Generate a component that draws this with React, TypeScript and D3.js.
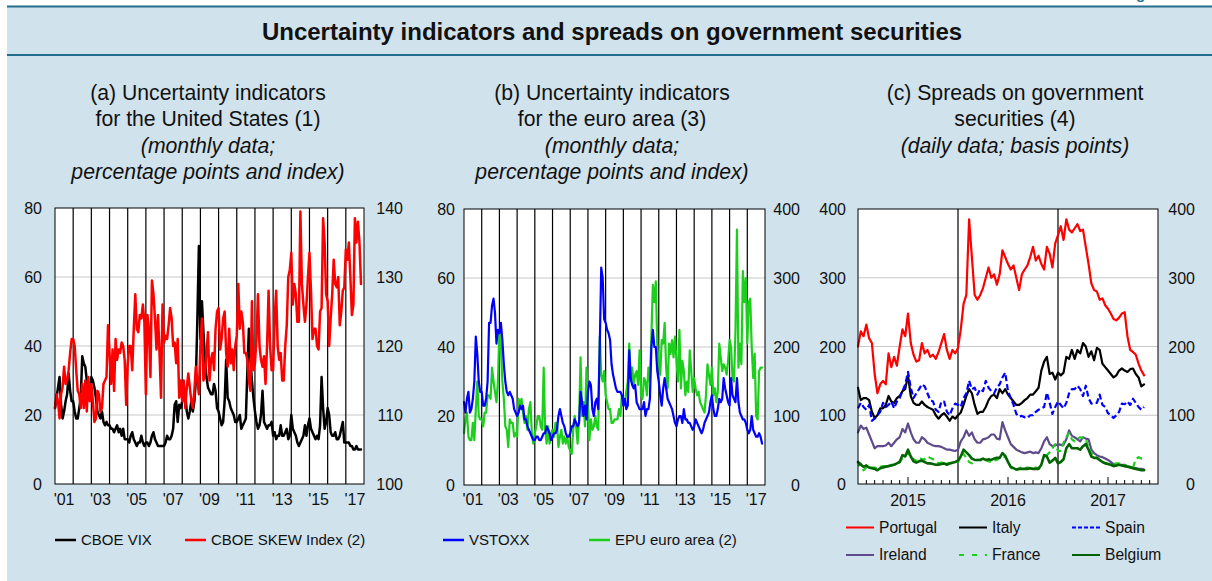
import React from 'react';
import * as d3 from 'd3';

const FONT = "'Liberation Sans', Arial, Helvetica, sans-serif";
const TEAL = '#236e8c';
const BG = '#d0e2ec';

// ---------- Panel (a): monthly, Jan 2001 - Nov 2017 ----------
const vix: number[] = [
  22, 25, 28, 31, 23, 19, 21, 24, 26, 32, 27, 24,
  24, 21, 19, 19, 22, 25, 37, 35, 34, 30, 25, 27,
  31, 30, 28, 25, 21, 20, 19, 21, 18, 17, 18, 17,
  17, 16, 16, 15, 16, 17, 15, 16, 14, 16, 13, 13,
  13, 12, 14, 15, 13, 12, 11, 12, 12, 14, 12, 11,
  12, 12, 11, 12, 14, 15, 13, 12, 11, 11, 11, 11,
  11, 12, 14, 13, 13, 14, 16, 23, 24, 18, 23, 22,
  24, 25, 26, 21, 19, 21, 24, 21, 24, 30, 48, 69,
  42, 53, 44, 36, 31, 28, 27, 26, 26, 29, 27, 22,
  21, 19, 17, 18, 24, 36, 25, 24, 22, 21, 20, 18,
  18, 19, 20, 16, 17, 18, 19, 33, 45, 36, 30, 25,
  21, 18, 16, 17, 20, 27, 18, 17, 16, 17, 17, 18,
  14, 15, 13, 14, 14, 17, 14, 14, 15, 16, 13, 14,
  20, 16, 15, 14, 12, 11, 12, 13, 14, 17, 14, 17,
  19, 16, 15, 14, 13, 14, 13, 17, 31, 22, 16, 18,
  22, 20, 15, 14, 14, 15, 13, 13, 14, 16, 18, 12,
  12, 12, 12, 11, 11, 10, 10, 11, 10, 10, 10,
];

const skew: number[] = [
  111, 113, 112, 109.5, 113, 114, 117, 114.5, 115, 116.5, 119, 121,
  121, 120, 116.5, 113.5, 113, 111, 114.5, 111, 115, 110.5, 115.5, 112,
  114.5, 112, 109, 109.5, 113.5, 113, 110.5, 111, 114.5, 115, 115.5, 123,
  119, 114.5, 119.5, 113.5, 121, 118, 119.5, 119, 120.5, 120, 118, 111.5,
  117.5, 120, 120, 116.5, 122.5, 127.5, 122.5, 122, 124.5, 124, 126, 123.5,
  113, 124.5, 122.5, 115.5, 129.5, 127.5, 124, 119.5, 124.5, 119, 112.5, 126,
  120.5, 121.5, 121, 123, 125.5, 124, 120, 120.5, 117.5, 121, 112.5, 115,
  112, 115, 111, 114, 116, 114, 112, 111, 113.5, 117, 115, 113,
  120, 124, 115, 116, 119, 122, 115, 118, 119, 116.5, 122.5, 125,
  125.5, 119.5, 121, 124, 125, 119, 117, 122.5, 117.5, 119.5, 116.5, 120,
  121.5, 129, 122.5, 125, 123.5, 119, 119, 118, 115, 113.5, 126.5, 116.5,
  117.5, 121, 127.5, 120, 118, 117, 118.5, 114.5, 120, 128, 120, 116.5,
  116.5, 124, 128, 120, 118, 119, 115, 115, 120, 123, 130, 131,
  133.5, 126, 129, 127.5, 123.5, 123.5, 139.5, 129, 126, 123.5, 126, 130,
  133.5, 128, 121, 122.5, 122.5, 120, 119.5, 125, 125.5, 138.5, 135, 127.5,
  126.5, 120, 124, 127.5, 132.5, 129, 128.5, 130, 123, 125, 128, 128.5,
  134, 132.5, 135, 130, 124.5, 126, 138.5, 135, 138, 135, 129,
];

// ---------- Panel (b): monthly, Jan 2001 - Nov 2017 ----------
const vstoxx: number[] = [
  24, 21, 25, 27, 21, 22, 25, 30, 43, 38, 30, 27,
  27, 23, 23, 25, 30, 47, 47, 52, 54, 50, 41, 45,
  44, 47, 42, 35, 30, 27, 26, 27, 26, 25, 22, 21,
  20, 21, 23, 22, 23, 19, 19, 17, 16, 15, 14, 13,
  13, 14, 14, 13, 13, 14, 15, 15, 17, 16, 15, 13,
  14, 15, 15, 16, 20, 22, 20, 18, 17, 15, 14, 14,
  15, 17, 17, 19, 18, 17, 18, 27, 24, 20, 23, 19,
  27, 30, 29, 22, 20, 24, 25, 22, 40, 63, 60, 48,
  47, 45, 44, 42, 35, 32, 30, 28, 27, 27, 27, 26,
  23, 25, 22, 23, 39, 31, 29, 28, 29, 24, 23, 22,
  22, 22, 24, 20, 22, 22, 25, 40, 45, 40, 40, 33,
  30, 26, 23, 28, 31, 28, 25, 24, 23, 22, 20, 18,
  17, 19, 20, 20, 18, 22, 19, 19, 18, 18, 17, 16,
  17, 19, 18, 17, 16, 15, 16, 18, 19, 20, 21, 24,
  26, 22, 20, 20, 22, 25, 24, 25, 31, 28, 26, 24,
  23, 31, 26, 25, 24, 31, 24, 21, 20, 19, 19, 18,
  16, 15, 16, 20, 16, 15, 14, 14, 15, 14, 12,
];

const epu: number[] = [
  75, 95, 105, 70, 65, 65, 90, 65, 110, 150, 100, 95,
  95, 85, 105, 105, 130, 130, 125, 170, 150, 135, 120, 150,
  225, 200, 150, 125, 85, 80, 55, 95, 90, 90, 70, 75,
  70, 125, 115, 125, 105, 90, 100, 80, 110, 120, 75, 60,
  75, 85, 100, 100, 85, 80, 170, 80, 60, 85, 60, 75,
  80, 70, 90, 90, 55, 70, 80, 60, 70, 60, 70, 55,
  50, 45, 80, 100, 85, 60, 95, 185, 100, 120, 85, 170,
  120, 65, 95, 80, 85, 100, 85, 80, 215, 160, 150, 165,
  130, 120, 110, 110, 90, 90, 95, 95, 95, 110, 100, 130,
  115, 120, 135, 150, 205, 150, 170, 145, 160, 165, 145, 195,
  130, 125, 155, 150, 130, 170, 150, 215, 290, 265, 295, 200,
  175, 160, 210, 205, 235, 170, 140, 205, 190, 210, 185, 215,
  180, 150, 225, 140, 180, 165, 130, 150, 135, 195, 165, 135,
  155, 140, 130, 135, 120, 115, 110, 105, 130, 175, 160, 145,
  170, 130, 140, 120, 135, 205, 185, 165, 175, 170, 160, 180,
  210, 200, 155, 150, 225, 370, 170, 205, 175, 310, 265, 300,
  205, 265, 270, 200, 155, 190, 100, 95, 165, 170, 170,
];

// ---------- Panel (c): every ~10 days, Jan 2015 - Nov 2017 ----------
const portugal: number[] = [
  200, 222, 215, 232, 212, 205, 160, 132, 145, 150, 145, 190, 170, 185, 172, 200, 225, 215, 248, 205,
  188, 178, 180, 205, 190, 195, 185, 188, 182, 192, 205, 218, 195, 182, 195, 190, 198, 225, 262, 275,
  385, 330, 275, 268, 275, 285, 300, 315, 300, 305, 290, 305, 340, 330, 320, 312, 318, 300, 282, 305,
  312, 318, 330, 345, 325, 332, 320, 312, 345, 335, 315, 350, 362, 375, 355, 385, 370, 366, 372, 378,
  368, 370, 345, 320, 292, 282, 280, 268, 270, 260, 255, 248, 240, 238, 242, 248, 250, 215, 195, 192,
  188, 175, 165, 158,
];
const italy: number[] = [
  140, 122, 125, 125, 122, 105, 96, 100, 110, 110, 115, 128, 120, 118, 125, 128, 135, 138, 158, 128,
  118, 115, 115, 120, 115, 112, 110, 108, 100, 95, 100, 103, 98, 92, 98, 95, 100, 104, 115, 128,
  138, 132, 115, 102, 105, 105, 112, 122, 128, 130, 125, 138, 132, 138, 130, 125, 120, 115, 115, 118,
  122, 125, 130, 130, 135, 140, 165, 178, 185, 160, 162, 152, 162, 158, 162, 185, 182, 195, 182, 195,
  190, 205, 200, 185, 193, 180, 198, 195, 175, 170, 165, 160, 155, 158, 165, 168, 165, 163, 167, 168,
  160, 155, 142, 145,
];
const spain: number[] = [
  110, 118, 112, 108, 115, 92, 95, 100, 105, 118, 112, 115, 120, 110, 120, 125, 135, 145, 163, 140,
  125, 132, 138, 145, 142, 132, 122, 120, 108, 105, 120, 120, 105, 100, 110, 117, 115, 112, 125, 132,
  150, 138, 140, 130, 138, 135, 150, 140, 135, 132, 140, 145, 155, 162, 135, 125, 115, 102, 98, 99,
  97, 96, 100, 100, 105, 108, 110, 112, 133, 118, 102, 112, 120, 115, 110, 118, 132, 138, 138, 143,
  138, 128, 143, 125, 117, 118, 118, 130, 115, 112, 103, 100, 96, 100, 105, 117, 116, 120, 115, 124,
  118, 112, 108, 112,
];
const ireland: number[] = [
  75, 85, 80, 82, 72, 62, 52, 55, 55, 55, 56, 60, 55, 60, 65, 68, 80, 75, 88, 75,
  65, 60, 60, 68, 65, 60, 58, 56, 55, 55, 54, 52, 50, 50, 49, 48, 50, 62, 68, 78,
  70, 75, 65, 60, 60, 65, 66, 68, 72, 72, 66, 65, 90, 78, 68, 58, 54, 50, 48, 46,
  45, 46, 47, 45, 46, 45, 52, 62, 68, 58, 55, 56, 58, 57, 57, 65, 78, 70, 68, 65,
  62, 68, 66, 65, 50, 45, 42, 40, 39, 37, 35, 32, 29, 27, 28, 28, 28, 26, 25, 24,
  23, 22, 22, 21,
];
const france: number[] = [
  26, 30, 20, 24, 23, 24, 24, 22, 25, 26, 26, 25, 28, 28, 30, 32, 38, 42, 45, 40,
  36, 34, 38, 36, 36, 40, 38, 36, 33, 30, 31, 32, 30, 30, 31, 32, 32, 40, 44, 38,
  32, 30, 32, 35, 35, 33, 35, 33, 32, 34, 35, 38, 40, 39, 33, 24, 21, 20, 22, 25,
  23, 24, 23, 22, 24, 23, 28, 42, 42, 46, 52, 58, 48, 48, 60, 68, 74, 65, 62, 66,
  68, 67, 66, 52, 45, 40, 38, 35, 33, 31, 29, 28, 29, 30, 30, 28, 27, 26, 25, 24,
  36, 39, 37, 37,
];
const belgium: number[] = [
  32, 28, 25, 27, 24, 23, 22, 20, 23, 24, 25, 26, 27, 28, 30, 32, 42, 40, 50, 40,
  33, 31, 33, 34, 32, 30, 30, 29, 28, 28, 29, 30, 28, 30, 31, 32, 34, 40, 50, 46,
  42, 37, 35, 35, 35, 37, 35, 36, 35, 37, 38, 38, 45, 41, 32, 25, 23, 21, 22, 22,
  22, 22, 23, 22, 22, 22, 28, 42, 40, 31, 34, 38, 30, 32, 36, 52, 58, 52, 52, 52,
  50, 55, 58, 50, 40, 38, 38, 35, 32, 30, 29, 28, 26, 27, 28, 27, 26, 25, 24, 23,
  22, 21, 20, 20,
];

const leftTicksAB = [0, 20, 40, 60, 80];
const rightTicksA = [100, 110, 120, 130, 140];
const rightTicksB = [0, 100, 200, 300, 400];
const ticksC = [0, 100, 200, 300, 400];
const xLabelYearsAB = [2001, 2003, 2005, 2007, 2009, 2011, 2013, 2015, 2017];
const xLabelsAB = ["'01", "'03", "'05", "'07", "'09", "'11", "'13", "'15", "'17"];
const xLabelYearsC = [2015, 2016, 2017];
const xLabelsC = ['2015', '2016', '2017'];

type Pt = { t: number; v: number };
const monthly = (vals: number[]): Pt[] => vals.map((v, i) => ({ t: 2001 + i / 12, v }));
const tenDay = (vals: number[]): Pt[] => vals.map((v, i) => ({ t: 2015 + i / 36, v }));

function Frame({ x0, x1, y0, y1 }: { x0: number; x1: number; y0: number; y1: number }) {
  return <rect x={x0} y={y0} width={x1 - x0} height={y1 - y0} fill="#fff" />;
}

function Path({ data, x, y, color, width, dash }: any) {
  const line = d3.line<Pt>().x((d) => x(d.t)).y((d) => y(d.v)).curve(d3.curveLinear);
  return (
    <path d={line(data) || ''} fill="none" stroke={color} strokeWidth={width}
      strokeDasharray={dash} strokeLinejoin="round" strokeLinecap={dash ? 'butt' : 'round'} />
  );
}

function PanelTitle({ cx, lines }: { cx: number; lines: [string, boolean][] }) {
  const base = [99.5, 126, 152.5, 179];
  return (
    <g fontSize={21.2} textAnchor="middle" fill="#111">
      {lines.map(([s, it], i) => (
        <text key={i} x={cx} y={base[i]} fontStyle={it ? 'italic' : 'normal'}>{s}</text>
      ))}
    </g>
  );
}

function LegendItem({ x, y, color, label, dash, len = 21, width = 2.5, fs = 15 }: any) {
  return (
    <g>
      <line x1={x} x2={x + len} y1={y} y2={y} stroke={color} strokeWidth={width} strokeDasharray={dash} />
      <text x={x + len + 5} y={y + 5} fontSize={fs} fill="#111">{label}</text>
    </g>
  );
}

function PanelAB({ x0, x1, y0, y1, rightScale, rightTicks, lines, leftLabelX, rightLabelX }: any) {
  const x = d3.scaleLinear().domain([2001, 2018]).range([x0, x1]);
  const y = d3.scaleLinear().domain([0, 80]).range([y1, y0]);
  const yr = d3.scaleLinear().domain(rightScale).range([y1, y0]);
  const years = d3.range(2002, 2018);
  return (
    <g>
      <Frame x0={x0} x1={x1} y0={y0} y1={y1} />
      {leftTicksAB.slice(1, -1).map((t) => (
        <line key={'g' + t} x1={x0} x2={x1} y1={y(t)} y2={y(t)} stroke="#c8c8c8" strokeWidth={1} />
      ))}
      {years.map((yy) => (
        <line key={yy} x1={x(yy)} x2={x(yy)} y1={y0} y2={y1} stroke="#000" strokeWidth={1.2} />
      ))}
      {lines.map((l: any, i: number) => (
        <Path key={i} data={l.data} x={x} y={l.right ? yr : y} color={l.color} width={l.width} />
      ))}
      <rect x={x0} y={y0} width={x1 - x0} height={y1 - y0} fill="none" stroke="#000" strokeWidth={1} />
      <g fontSize={16} fill="#111">
        {leftTicksAB.map((t) => (
          <text key={'l' + t} x={leftLabelX} y={y(t) + 6} textAnchor="end">{t}</text>
        ))}
        {rightTicks.map((t: number) => (
          <text key={'r' + t} x={rightLabelX} y={yr(t) + 6} textAnchor="end">{t}</text>
        ))}
        {xLabelYearsAB.map((yy, i) => (
          <text key={'x' + yy} x={x(yy + 0.5)} y={505} textAnchor="middle">{xLabelsAB[i]}</text>
        ))}
      </g>
    </g>
  );
}

function PanelC() {
  const x0 = 858, x1 = 1158, y0 = 209, y1 = 484;
  const x = d3.scaleLinear().domain([2015, 2018]).range([x0, x1]);
  const y = d3.scaleLinear().domain([0, 400]).range([y1, y0]);
  const months = d3.range(1, 36).filter((k) => k % 12 !== 0);
  const series = [
    { data: tenDay(portugal), color: '#ff0000', width: 2.2 },
    { data: tenDay(italy), color: '#000000', width: 2.2 },
    { data: tenDay(spain), color: '#0000ff', width: 2.2, dash: '6,3' },
    { data: tenDay(ireland), color: '#5e4b8b', width: 2.2 },
    { data: tenDay(france), color: '#1ccf1c', width: 2.2, dash: '6,4' },
    { data: tenDay(belgium), color: '#006400', width: 2.6 },
  ];
  return (
    <g>
      <Frame x0={x0} x1={x1} y0={y0} y1={y1} />
      {ticksC.slice(1, -1).map((t) => (
        <line key={'g' + t} x1={x0} x2={x1} y1={y(t)} y2={y(t)} stroke="#c8c8c8" strokeWidth={1} />
      ))}
      {[2016, 2017].map((yy) => (
        <line key={yy} x1={x(yy)} x2={x(yy)} y1={y0} y2={y1} stroke="#000" strokeWidth={1.2} />
      ))}
      {months.map((k) => (
        <line key={'m' + k} x1={x(2015 + k / 12)} x2={x(2015 + k / 12)} y1={y1} y2={y1 - (k % 12 === 6 ? 7 : 4)}
          stroke="#000" strokeWidth={1} />
      ))}
      {series.map((s, i) => (
        <Path key={i} data={s.data} x={x} y={y} color={s.color} width={s.width} dash={s.dash} />
      ))}
      <rect x={x0} y={y0} width={x1 - x0} height={y1 - y0} fill="none" stroke="#000" strokeWidth={1} />
      <g fontSize={16} fill="#111">
        {ticksC.map((t) => (
          <text key={'l' + t} x={846} y={y(t) + 6} textAnchor="end">{t}</text>
        ))}
        {ticksC.map((t) => (
          <text key={'r' + t} x={1195} y={y(t) + 6} textAnchor="end">{t}</text>
        ))}
        {xLabelYearsC.map((yy, i) => (
          <text key={'x' + yy} x={x(yy + 0.5)} y={506} textAnchor="middle">{xLabelsC[i]}</text>
        ))}
      </g>
    </g>
  );
}

export default function App() {
  return (
    <div style={{ position: 'absolute', left: 0, top: 0 }}>
      <svg width={1212} height={581} style={{ display: 'block' }} fontFamily={FONT}>
        <rect x={0} y={0} width={1212} height={581} fill="#fff" />
        <rect x={7} y={7} width={1205} height={574} fill={BG} />
        <text x={1181} y={-1} textAnchor="end" fontSize={15} fontWeight="bold" fill={TEAL}>Figure 3</text>
        <rect x={7} y={5.5} width={1205} height={2} fill={TEAL} />
        <rect x={7} y={54} width={1205} height={2} fill={TEAL} />
        <text x={612} y={40} textAnchor="middle" fontSize={24} fontWeight="bold" fill="#111">
          Uncertainty indicators and spreads on government securities
        </text>

        <PanelTitle cx={208} lines={[
          ['(a) Uncertainty indicators', false],
          ['for the United States (1)', false],
          ['(monthly data;', true],
          ['percentage points and index)', true],
        ]} />
        <PanelTitle cx={612} lines={[
          ['(b) Uncertainty indicators', false],
          ['for the euro area (3)', false],
          ['(monthly data;', true],
          ['percentage points and index)', true],
        ]} />
        <PanelTitle cx={1015} lines={[
          ['(c) Spreads on government', false],
          ['securities (4)', false],
          ['(daily data; basis points)', true],
        ]} />

        <PanelAB x0={55} x1={364} y0={208} y1={484} rightScale={[100, 140]} rightTicks={rightTicksA}
          leftLabelX={42} rightLabelX={403}
          lines={[
            { data: monthly(vix), color: '#000', width: 2.5 },
            { data: monthly(skew), color: '#ff0000', width: 2.5, right: true },
          ]} />
        <PanelAB x0={464} x1={765} y0={209} y1={485} rightScale={[0, 400]} rightTicks={rightTicksB}
          leftLabelX={455} rightLabelX={800}
          lines={[
            { data: monthly(epu), color: '#1ccf1c', width: 2.2, right: true },
            { data: monthly(vstoxx), color: '#0000ff', width: 2.2 },
          ]} />
        <PanelC />

        <LegendItem x={55} y={540} color="#000" label="CBOE VIX" />
        <LegendItem x={185} y={540} color="#ff0000" label="CBOE SKEW Index  (2)" />
        <LegendItem x={443} y={540} color="#0000ff" label="VSTOXX" />
        <LegendItem x={589} y={540} color="#1ccf1c" label="EPU euro area (2)" />

        <LegendItem x={846} y={527.5} len={28} width={2} fs={15.6} color="#ff0000" label="Portugal" />
        <LegendItem x={959} y={527.5} len={28} width={2} fs={15.6} color="#000" label="Italy" />
        <LegendItem x={1072} y={527.5} len={28} width={2} fs={15.6} color="#0000ff" label="Spain" dash="4,2" />
        <LegendItem x={846} y={555} len={28} width={2} fs={15.6} color="#5e4b8b" label="Ireland" />
        <LegendItem x={959} y={555} len={28} width={2} fs={15.6} color="#1ccf1c" label="France" dash="5,8" />
        <LegendItem x={1072} y={555} len={28} width={2} fs={15.6} color="#006400" label="Belgium" />
      </svg>
    </div>
  );
}
